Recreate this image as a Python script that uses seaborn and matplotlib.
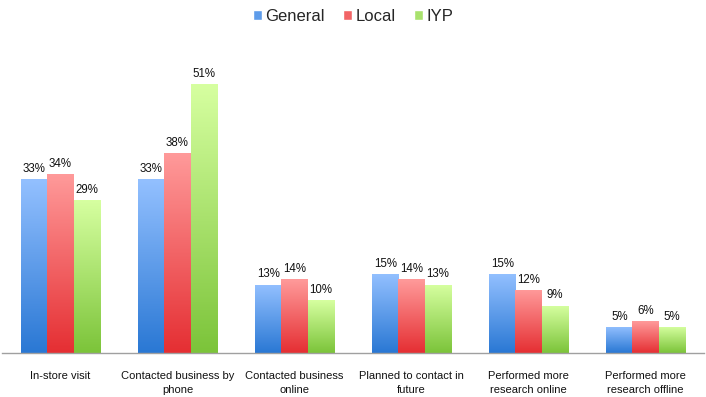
import matplotlib
matplotlib.use("Agg")
import matplotlib.pyplot as plt
import matplotlib.colors as mcolors
from matplotlib.patches import Patch
import numpy as np
import pandas as pd
import seaborn as sns

categories = ["In-store visit", "Contacted business by\nphone", "Contacted business\nonline",
              "Planned to contact in\nfuture", "Performed more\nresearch online", "Performed more\nresearch offline"]
series = ["General", "Local", "IYP"]
general = [33, 33, 13, 15, 15, 5]
local = [34, 38, 14, 14, 12, 6]
iyp = [29, 51, 10, 13, 9, 5]

rows = []
for name, vals in zip(series, [general, local, iyp]):
    for c, v in zip(categories, vals):
        rows.append({"cat": c, "series": name, "value": v})
df = pd.DataFrame(rows)

sns.set_style("white")
plt.rcParams['font.family'] = ['Liberation Sans', 'DejaVu Sans']

colors = {"General": ("#93c0ff", "#2a78d4"),
          "Local": ("#ff9a9a", "#e52f33"),
          "IYP": ("#d6ffa0", "#7cc43a")}
mid = {k: v[1] for k, v in colors.items()}

fig = plt.figure(figsize=(7.06, 3.97), dpi=100)
ax = fig.add_axes([2/706, 1-353/397, 702/706, (353-37)/397])
sns.barplot(data=df, x="cat", y="value", hue="series", hue_order=series,
            palette=mid, width=0.67, ax=ax, legend=False, saturation=1)

# gradient fill per bar
for container, name in zip(ax.containers, series):
    top, bot = colors[name]
    cmap = mcolors.LinearSegmentedColormap.from_list(name, [bot, top])
    for bar in container:
        bar.set_edgecolor("none")
        x0, y0 = bar.get_x(), bar.get_y()
        w, h = bar.get_width(), bar.get_height()
        grad = np.linspace(0, 1, 100).reshape(-1, 1)
        im = ax.imshow(grad, cmap=cmap, origin="lower", aspect="auto",
                       extent=[x0, x0 + w, y0, y0 + h], zorder=bar.get_zorder() + 0.1)
        im.set_clip_path(bar)
    ax.bar_label(container, labels=[f"{int(v)}%" for v in container.datavalues],
                 padding=3, fontsize=8.3, color="#111111")
ax.set_aspect("auto")
ax.set_ylim(0, 60)
ax.set_xlim(-0.5, len(categories)-0.5)

for s in ["top", "right", "left"]:
    ax.spines[s].set_visible(False)
ax.spines["bottom"].set_color("#a0a0a0")
ax.spines["bottom"].set_linewidth(1)
ax.set_yticks([])
ax.set_xlabel("")
ax.set_ylabel("")
ax.tick_params(axis="x", which="major", length=0, labelsize=8, pad=13, colors="#111111")
for lab in ax.get_xticklabels():
    lab.set_linespacing(1.45)
ax.set_xticks(np.arange(-0.5, len(categories), 1), minor=True)
ax.tick_params(axis="x", which="minor", length=5, color="#a0a0a0", width=1, direction="out")

handles = [Patch(facecolor=mcolors.to_hex(np.mean([mcolors.to_rgb(c) for c in colors[n]], axis=0)), label=n)
           for n in series]
fig.legend(handles=handles, loc="upper center", bbox_to_anchor=(0.5, 1.015), ncol=3,
           frameon=False, fontsize=12, handlelength=0.55, handleheight=0.55,
           handletextpad=0.2, columnspacing=1.1)

fig.savefig("out.png", dpi=100)
